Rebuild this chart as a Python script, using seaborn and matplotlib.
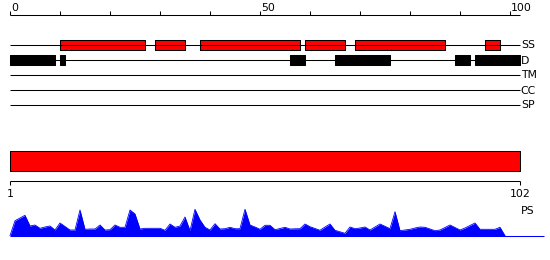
import matplotlib
matplotlib.use("Agg")
import matplotlib.pyplot as plt
import seaborn as sns
import pandas as pd

# ---- data ----
seq_len = 102
ruler_ticks = list(range(0, 101, 10))
ruler_labels = {0: "0", 50: "50", 100: "100"}
tracks = ["SS", "D", "TM", "CC", "SP"]
ss_starts = [10, 29, 38, 59, 69, 95]
ss_ends = [27, 35, 58, 67, 87, 98]
d_starts = [0, 10, 56, 65, 89, 93]
d_ends = [9, 11, 59, 76, 92, 102]
ps_values = [
    0, 15, 17.7, 20.4, 9.7, 10.7, 7.4, 8.7, 9.7, 5.7,
    12.7, 9.2, 5.7, 5.7, 25.7, 6.4, 6.7, 6.7, 10.7, 5.7,
    6, 10.7, 8.4, 8.4, 25.7, 21.7, 6.7, 7.4, 7.4, 7.4,
    7.4, 5.4, 11.7, 8.4, 9.7, 18.7, 5, 26.4, 15.7, 8.4,
    5.7, 12, 6.7, 7, 8.4, 7, 7, 26.4, 10.7, 8.7,
    6.4, 10.4, 10.4, 6, 7.2, 8.4, 6.7, 6.9, 7, 11.7,
    9, 7.2, 5.4, 8.7, 11.7, 5.4, 3.9, 2.4, 8.7, 7,
    7.7, 8.7, 5.7, 8.7, 11.7, 9.4, 7, 24, 5, 5.7,
    6.4, 7.7, 8.7, 8.4, 6.7, 5, 5.7, 8.2, 10.7, 8.2,
    5.7, 7.7, 10.2, 12.7, 6.4, 6.4, 6.4, 6.4, 8.4, 0,
]
ps_pos = list(range(len(ps_values)))

sns.set_style("white")
plt.rcParams["font.family"] = ["DejaVu Sans"]
plt.rcParams["text.color"] = "black"
FS = 7.8
LW = 0.75

W, H = 550, 260
fig = plt.figure(figsize=(W / 100, H / 100), dpi=100)

# main axes: x in residues (0 -> px 10, 5 px per residue), y in pixels
ax = fig.add_axes([0, 0, 1, 1])
ax.set_xlim(-2, 108)
ax.set_ylim(H, 0)
ax.axis("off")

# top ruler
ruler_y = 14.5
ax.hlines(ruler_y, 0, seq_len, color="black", lw=LW)
ax.vlines(ruler_ticks, ruler_y - 4, ruler_y, color="black", lw=LW)
for t, lab in ruler_labels.items():
    ax.text(t + 0.15, ruler_y - 3.5, lab, ha="left", va="baseline",
            fontsize=FS, color="black")

# tracks
row_y = {name: 45 + 15 * k for k, name in enumerate(tracks)}
for name, y in row_y.items():
    ax.hlines(y, 0, seq_len, color="black", lw=LW)
    ax.text(seq_len + 0.15, y + 0.5, name, ha="left", va="center",
            fontsize=FS, color="black")

ax.broken_barh([(s, e - s) for s, e in zip(ss_starts, ss_ends)],
               (row_y["SS"] - 5, 10), facecolor="#ff0000",
               edgecolor="black", lw=LW)
ax.broken_barh([(s, e - s) for s, e in zip(d_starts, d_ends)],
               (row_y["D"] - 5, 10), facecolor="black",
               edgecolor="black", lw=LW)

# full-length bar
ax.broken_barh([(0, seq_len)], (150.5, 20), facecolor="#ff0000",
               edgecolor="black", lw=LW)

# bottom ruler
b_y = 180.5
ax.hlines(b_y, 0, seq_len, color="black", lw=LW)
ax.vlines([0, seq_len], b_y, b_y + 4, color="black", lw=LW)
ax.text(0, 189, "1", ha="center", va="top", fontsize=FS, color="black")
ax.text(seq_len, 189, str(seq_len), ha="center", va="top", fontsize=FS,
        color="black")
ax.text(seq_len + 1.6, 206.5, "PS", ha="center", va="top", fontsize=FS,
        color="black")

# PS profile axes
base_px = 235.7
ax_ps = fig.add_axes([0, (H - base_px) / H, 1, 36 / H])
ax_ps.set_xlim(-2, 108)
ax_ps.set_ylim(0, 36)
ax_ps.axis("off")
df = pd.DataFrame({"pos": ps_pos, "ps": ps_values})
sns.lineplot(data=df, x="pos", y="ps", ax=ax_ps, color="#0000ff", lw=0.6)
ax_ps.fill_between(df["pos"], 0, df["ps"], color="#0000ff", lw=0)
ax_ps.hlines(0, 0, 106.8, color="#0000ff", lw=LW, clip_on=False)

fig.savefig("out.png", dpi=100)
